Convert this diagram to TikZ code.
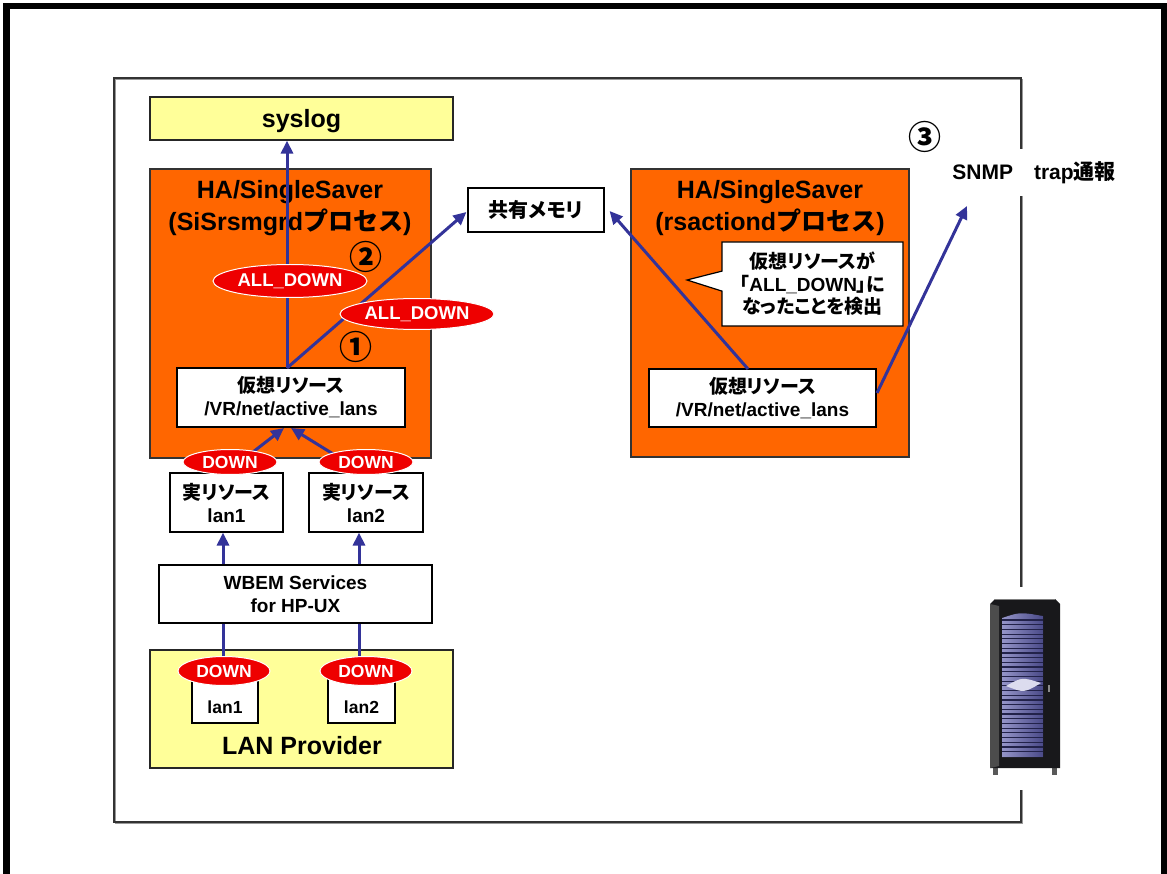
\documentclass[tikz,border=0pt]{standalone}
\usepackage{fontspec}
\setmainfont{Liberation Sans}
\newfontfamily\jpfont{Noto Sans CJK JP}[RawFeature=+palt]
\newfontfamily\jpwide{Noto Sans CJK JP}
\newcommand\jpt[1]{{\jpfont #1}}
\newcommand\jpw[1]{{\jpwide #1}}
\newcommand\fs[2]{\fontsize{#1}{#2}\selectfont\bfseries}
\usetikzlibrary{shapes.geometric,shapes.callouts,arrows.meta,calc}

\definecolor{orangeF}{HTML}{FF6600}
\definecolor{paleY}{HTML}{FFFF99}
\definecolor{flowB}{HTML}{333399}
\definecolor{alertR}{HTML}{EE0000}
\definecolor{srvBody}{HTML}{18181B}
\definecolor{srvPanelA}{HTML}{9494C8}
\definecolor{srvPanelB}{HTML}{4A4A88}
\definecolor{srvStripe}{HTML}{22224A}
\definecolor{srvLens}{HTML}{DCDCEE}

\tikzset{
  wbox/.style={draw=black, line width=1.2pt, fill=white, inner sep=0pt, align=center},
  ybox/.style={draw=black!85, line width=1.2pt, fill=paleY, inner sep=0pt, align=center},
  obox/.style={draw=black!80, line width=1.2pt, fill=orangeF, inner sep=0pt},
  redell/.style={ellipse, fill=alertR, draw=white, line width=1pt, text=white, inner sep=0pt},
  flow/.style={draw=flowB, line width=3pt},
  flowarr/.style={flow, -{Triangle[length=13pt,width=12pt]}},
  digit/.style={font=\jpwide\fs{33}{33}, inner sep=0pt},
}

\begin{document}
\begin{tikzpicture}[x=1pt, y=-1pt]
  \useasboundingbox (0,0) rectangle (1167,874);
  \fill[white] (0,0) rectangle (1167,874);

  % slide border (open at the bottom)
  \draw[line width=6.5pt, line join=miter] (6.5,880) -- (6.5,6) -- (1164.5,6) -- (1164.5,880);

  % outer system frame with its shadow
  \draw[black!40, line width=1.2pt] (115.5,79.5) rectangle (1022.5,823.5);
  \draw[black!80, line width=1.2pt] (114,78) rectangle (1021,822);

  % --- process boxes ---
  \node[obox, minimum width=281, minimum height=289] (procL) at (290.5,313.5) {};
  \node[font=\fs{25}{32}, align=center, inner sep=0pt] (procLt) at (290,208)
    {HA/SingleSaver\\(SiSrsmgrd\jpw{プロセス})};
  \node[obox, minimum width=278, minimum height=288] (procR) at (770,313) {};
  \node[font=\fs{25}{32}, align=center, inner sep=0pt] (procRt) at (770,208)
    {HA/SingleSaver\\(rsactiond\jpw{プロセス})};

  % --- destinations ---
  \node[ybox, minimum width=303, minimum height=43, font=\fs{25}{30}, text depth=0pt] (syslog) at (301.5,118.5)
    {syslog};
  \node[wbox, minimum width=136, minimum height=44, font=\fs{20}{24}] (mem) at (536,210) {\jpt{共有メモリ}};

  % detection note
  \node[rectangle callout, draw=black, line width=1.2pt, fill=white, inner sep=0pt,
        minimum width=181, minimum height=84, align=center, font=\fs{19}{22.5},
        callout absolute pointer={(687,280)}, callout pointer width=20pt] (note) at (812.5,284)
    {\jpt{仮想リソースが}\\\jpt{「}ALL\_DOWN\jpt{」に}\\\jpt{なったことを検出}};

  % --- virtual resources ---
  \node[wbox, minimum width=228, minimum height=59, font=\fs{19}{23}] (vrL) at (291,397.5)
    {\jpt{仮想リソース}\\/VR/net/active\_lans};
  \node[wbox, minimum width=227, minimum height=58, font=\fs{19}{23}] (vrR) at (762.5,398)
    {\jpt{仮想リソース}\\/VR/net/active\_lans};

  % --- real resources ---
  \node[wbox, minimum width=113, minimum height=59, font=\fs{19}{23}] (realA) at (226.5,502.5)
    {\jpt{実リソース}\\lan1};
  \node[wbox, minimum width=114, minimum height=59, font=\fs{19}{23}] (realB) at (366,502.5)
    {\jpt{実リソース}\\lan2};

  % --- WBEM and LAN provider ---
  \node[wbox, minimum width=273, minimum height=58, font=\fs{19}{23}] (wbem) at (295.5,594)
    {WBEM Services\\for HP-UX};
  \node[ybox, minimum width=303, minimum height=118] (lanp) at (301.5,709) {};
  \node[font=\fs{25}{30}, inner sep=0pt] (lanpt) at (302,746) {LAN Provider};
  \node[wbox, minimum width=66, minimum height=47] (ifA) at (225,699.5) {};
  \node[font=\fs{17.5}{20}, inner sep=0pt] (ifAt) at (225,707) {lan1};
  \node[wbox, minimum width=67, minimum height=47] (ifB) at (361.5,699.5) {};
  \node[font=\fs{17.5}{20}, inner sep=0pt] (ifBt) at (361.5,707) {lan2};

  % SNMP destination label
  \node[fill=white, inner xsep=3pt, inner ysep=0pt, minimum height=47, font=\fs{21}{24}] (snmp) at (1034,173)
    {SNMP\jpt{　}trap\jpt{通報}};

  % --- anchor points of the connectors ---
  \coordinate (colA) at (223,0);
  \coordinate (colB) at (359,0);
  \coordinate (vrLtop) at (287,368);
  \coordinate (vrLbotA) at (284,428);
  \coordinate (vrLbotB) at (291,428);
  \coordinate (vrRtop) at (748,369);
  \coordinate (vrRside) at (877,393);
  \coordinate (snmpTip) at (967,206);
  \coordinate (downCpos) at (224,671);
  \coordinate (downDpos) at (366,671);

  % --- connectors ---
  \draw[flow] (downCpos -| colA) -- (wbem.south -| colA);
  \draw[flow] (downDpos -| colB) -- (wbem.south -| colB);
  \draw[flowarr] (wbem.north -| colA) -- (realA.south -| colA);
  \draw[flowarr] (wbem.north -| colB) -- (realB.south -| colB);
  \draw[flowarr] (realA.north) -- (vrLbotA);
  \draw[flowarr] ($(realB.north)+(-3,0)$) -- (vrLbotB);
  \draw[flowarr] (vrLtop) -- (vrLtop |- syslog.south);
  \draw[flowarr] (vrLtop) -- ($(mem.west)+(-1,2)$);
  \draw[flowarr] (vrRtop) -- ($(mem.east)+(5,1)$);
  \draw[flowarr] (vrRside) -- (snmpTip);

  % --- status ellipses ---
  \node[redell, minimum width=154, minimum height=33, font=\fs{18.5}{20}] (adA) at (290,281) {ALL\_DOWN};
  \node[redell, minimum width=154, minimum height=31, font=\fs{18.5}{20}] (adB) at (417,314) {ALL\_DOWN};
  \node[redell, minimum width=94, minimum height=25, font=\fs{17.5}{20}] (downA) at (230,462) {DOWN};
  \node[redell, minimum width=94, minimum height=25, font=\fs{17.5}{20}] (downB) at (366,462) {DOWN};
  \node[redell, minimum width=92, minimum height=29, font=\fs{17.5}{20}] (downC) at (downCpos) {DOWN};
  \node[redell, minimum width=92, minimum height=29, font=\fs{17.5}{20}] (downD) at (downDpos) {DOWN};

  % step numbers
  \node[digit] (stepA) at (356,347) {①};
  \node[digit] (stepB) at (366,257) {②};
  \node[digit] (stepC) at (925,137) {③};

  % --- server cabinet ---
  \fill[white] (975,587) rectangle (1070,790);
  \fill[black!65] (993,766) rectangle (998,775);
  \fill[black!65] (1052,766) rectangle (1057,775);
  \fill[srvBody] (990,604) -- (995,599) -- (1055,599) -- (1060,604) -- (1060,768) -- (990,768) -- cycle;
  \fill[black!70] (990,604) -- (999,606) -- (999,766) -- (990,768) -- cycle;
  \draw[black!50, line width=0.8pt] (995,599.6) -- (1055,599.6);
  \fill[left color=srvPanelA, right color=srvPanelB]
    (1002,618) .. controls (1020,612) .. (1043,616) -- (1043,757) -- (1002,757) -- cycle;
  \foreach \yy in {620,624.7,...,756}
    \draw[srvStripe, line width=1.2pt] (1002,\yy) -- (1043,\yy);
  \fill[srvLens] (1006,686) .. controls (1022,677) .. (1041,683) .. controls (1024,693) .. (1006,686) -- cycle;
  \fill[black!45] (1048,685) rectangle (1050,692);
\end{tikzpicture}
\end{document}
